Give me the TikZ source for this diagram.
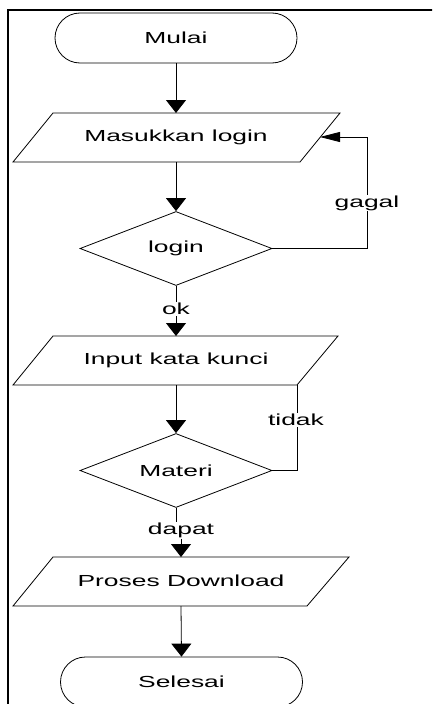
\documentclass[tikz,border=0pt]{standalone}
\usepackage{fontspec}
\setmainfont{Liberation Sans}[FakeStretch=1.65]
\usetikzlibrary{arrows.meta,shapes.geometric,shapes.misc}
\begin{document}
\begin{tikzpicture}[x=1pt,y=-1pt,
  shp/.style={draw=black,line width=0.8pt},
  txt/.style={font=\fontsize{16}{19}\selectfont,inner sep=1pt},
  lbl/.style={font=\fontsize{16}{19}\selectfont,fill=white,inner sep=1pt},
  flow/.style={line width=0.8pt,-{Triangle[length=13pt,width=20pt]}},
  flowh/.style={line width=0.8pt,-{Triangle[length=20pt,width=10pt]}},
  link/.style={line width=0.8pt},
  term/.style={shp,rounded rectangle,minimum width=242pt,minimum height=50pt,inner sep=0pt,font=\fontsize{16}{19}\selectfont},
  dec/.style={shp,diamond,minimum width=192pt,minimum height=74pt,inner sep=0pt,aspect=2.6,font=\fontsize{16}{19}\selectfont}]
\useasboundingbox (0,0) rectangle (432,704);
\begin{scope}
\clip (0,0) rectangle (432,704);
\draw[line width=2.4pt] (8,720) -- (8,10) -- (440,10);
% terminals
\node[term] (mulai) at (176,38) {Mulai};
\node[term] (selesai) at (181.5,682) {Selesai};
\end{scope}
% parallelograms
\draw[shp] (53,113) -- (340,113) -- (300,162) -- (13,162) -- cycle;
\node[txt] (p1) at (176,137) {Masukkan login};
\coordinate (p1n) at (176,113);
\coordinate (p1s) at (176,162);
\coordinate (p1e) at (320,137);
\draw[shp] (53,336) -- (338,336) -- (297,385) -- (13,385) -- cycle;
\node[txt] (p2) at (176,360) {Input kata kunci};
\coordinate (p2n) at (176,336);
\coordinate (p2s) at (176,385);
\coordinate (p2se) at (297,385);
\draw[shp] (53,557) -- (349,557) -- (307,606) -- (13,606) -- cycle;
\node[txt] (p3) at (181,581) {Proses Download};
\coordinate (p3n) at (181,557);
\coordinate (p3s) at (181,606);
% decisions
\node[dec] (d1) at (176,248.5) {login};
\node[dec] (d2) at (176,470.5) {Materi};
% connectors
\draw[flow] (mulai.south) -- (p1n);
\draw[flow] (p1s) -- (d1.north);
\draw[flowh] (d1.east) -- (367,248.5) -- (367,137) -- (p1e);
\node[lbl] (gagal) at (367,203) {gagal};
\draw[flow] (d1.south) -- (p2n);
\node[lbl] (ok) at (176,309) {ok};
\draw[flow] (p2s) -- (d2.north);
\draw[link] (d2.east) -- (297,470.5) -- (p2se);
\node[lbl] (tidak) at (296,420) {tidak};
\draw[link] (d2.south) -- (176,524);
\node[lbl] (dapat) at (181,530) {dapat};
\draw[flow] (dapat.south) -- (p3n);
\draw[flow] (p3s) -- (selesai.north);
\end{tikzpicture}
\end{document}
